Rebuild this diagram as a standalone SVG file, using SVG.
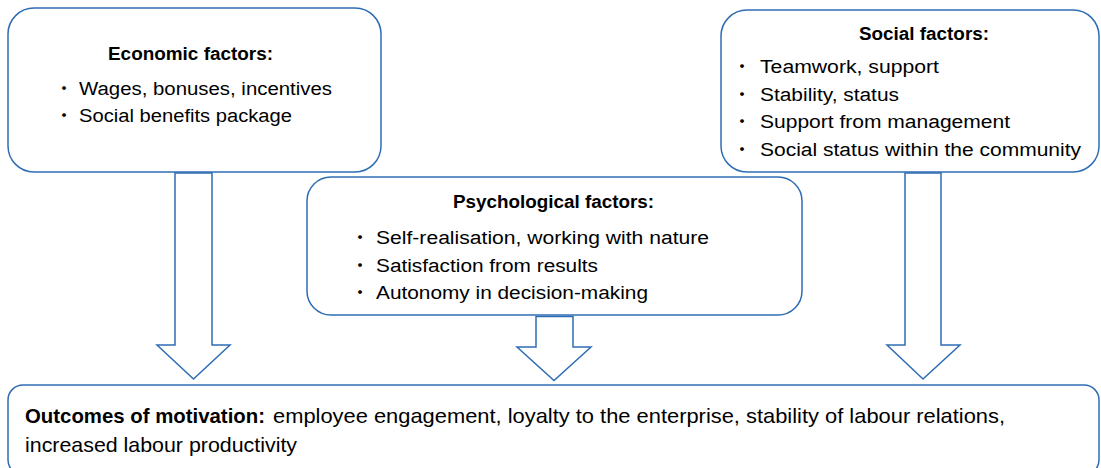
<svg xmlns="http://www.w3.org/2000/svg" width="1101" height="468" viewBox="0 0 1101 468">
  <style>
    .box { fill: #ffffff; stroke: #2e6db4; stroke-width: 1.5; }
    .arrow { fill: #ffffff; stroke: #2e6db4; stroke-width: 1.5; stroke-linejoin: miter; }
    text { font-family: "Liberation Sans", Arial, sans-serif; fill: #000000; }
    .title { font-size: 18px; font-weight: bold; }
    .item { font-size: 18px; }
    .dot { font-family: "Noto Sans CJK JP", "Liberation Sans", sans-serif; font-size: 18px; text-anchor: middle; }
    .out { font-size: 21px; }
    .outb { font-size: 21px; font-weight: bold; }
  </style>

  <rect width="1101" height="468" fill="#ffffff"/>

  <!-- block arrows from each factor group into the outcomes box -->
  <g id="connectors">
    <polygon class="arrow" points="175,173 212,173 212,345 230,345 193.5,379 157,345 175,345"/>
    <polygon class="arrow" points="536,316.5 573,316.5 573,347 591,347 554,380.5 517,347 536,347"/>
    <polygon class="arrow" points="905,173 941,173 941,345 960,345 923,379 887,345 905,345"/>
  </g>

  <g id="economic">
    <rect class="box" x="8" y="8" width="373" height="164" rx="26" ry="26"/>
    <text class="title" x="108" y="60" textLength="165" lengthAdjust="spacingAndGlyphs">Economic factors:</text>
    <text class="dot" x="64" y="94.5">・</text>
    <text class="item" x="79" y="94.5" textLength="253" lengthAdjust="spacingAndGlyphs">Wages, bonuses, incentives</text>
    <text class="dot" x="64" y="121.5">・</text>
    <text class="item" x="79" y="121.5" textLength="213" lengthAdjust="spacingAndGlyphs">Social benefits package</text>
  </g>

  <g id="social">
    <rect class="box" x="721" y="10" width="378" height="162" rx="26" ry="26"/>
    <text class="title" x="859" y="40" textLength="130" lengthAdjust="spacingAndGlyphs">Social factors:</text>
    <text class="dot" x="742" y="73">・</text>
    <text class="item" x="760" y="73" textLength="179" lengthAdjust="spacingAndGlyphs">Teamwork, support</text>
    <text class="dot" x="742" y="100.5">・</text>
    <text class="item" x="760" y="100.5" textLength="139" lengthAdjust="spacingAndGlyphs">Stability, status</text>
    <text class="dot" x="742" y="128">・</text>
    <text class="item" x="760" y="128" textLength="250" lengthAdjust="spacingAndGlyphs">Support from management</text>
    <text class="dot" x="742" y="155.5">・</text>
    <text class="item" x="760" y="155.5" textLength="321" lengthAdjust="spacingAndGlyphs">Social status within the community</text>
  </g>

  <g id="psychological">
    <rect class="box" x="307" y="177" width="495" height="138" rx="24" ry="24"/>
    <text class="title" x="453" y="208" textLength="201" lengthAdjust="spacingAndGlyphs">Psychological factors:</text>
    <text class="dot" x="360" y="244">・</text>
    <text class="item" x="376" y="244" textLength="333" lengthAdjust="spacingAndGlyphs">Self-realisation, working with nature</text>
    <text class="dot" x="360" y="271.5">・</text>
    <text class="item" x="376" y="271.5" textLength="222" lengthAdjust="spacingAndGlyphs">Satisfaction from results</text>
    <text class="dot" x="360" y="299">・</text>
    <text class="item" x="376" y="299" textLength="272" lengthAdjust="spacingAndGlyphs">Autonomy in decision-making</text>
  </g>

  <g id="outcomes">
    <rect class="box" x="8" y="385" width="1091" height="90" rx="15" ry="15"/>
    <text class="outb" x="25" y="423" textLength="240" lengthAdjust="spacingAndGlyphs">Outcomes of motivation:</text>
    <text class="out" x="273" y="423" textLength="732" lengthAdjust="spacingAndGlyphs">employee engagement, loyalty to the enterprise, stability of labour relations,</text>
    <text class="out" x="25" y="452" textLength="272" lengthAdjust="spacingAndGlyphs">increased labour productivity</text>
  </g>
</svg>
